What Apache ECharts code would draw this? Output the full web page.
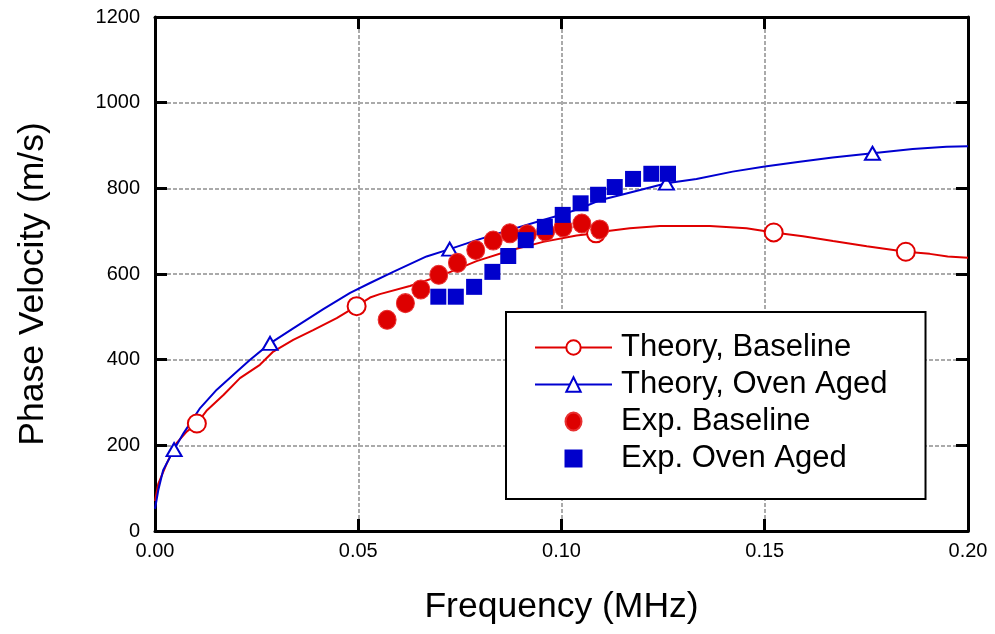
<!DOCTYPE html>
<html>
<head>
<meta charset="utf-8">
<script src="https://cdn.jsdelivr.net/npm/echarts@6/dist/echarts.min.js"></script>
<style>
html,body{margin:0;padding:0;background:#fff;}
#chart{width:995px;height:634px;}
</style>
</head>
<body>
<div id="chart"></div>
<script>
// theory curves (frequency MHz, velocity m/s)
var baseFreq = [0.0000,0.0008,0.0029,0.0053,0.0078,0.0103,0.0128,0.0169,0.0209,0.0258,0.0291,0.0340,0.0389,0.0447,0.0496,0.0529,0.0553,0.0627,0.0709,0.0791,0.0873,0.0955,0.1037,0.1085,0.1119,0.1168,0.1242,0.1365,0.1455,0.1522,0.1594,0.1668,0.1751,0.1847,0.1906,0.1950,0.2000];
var baseVel  = [70,110,158,205,232,251,282,318,357,388,419,446,469,497,525,545,553,572,598,630,655,675,690,695,701,707,712,712,707,697,688,677,665,652,647,641,638];
var baseMarks = [0.0103,0.0496,0.1085,0.1522,0.1847];

var ovenFreq = [0.0000,0.0008,0.0020,0.0041,0.0047,0.0070,0.0111,0.0152,0.0201,0.0234,0.0283,0.0340,0.0414,0.0480,0.0529,0.0586,0.0668,0.0725,0.0791,0.0873,0.0955,0.1012,0.1045,0.1094,0.1143,0.1258,0.1332,0.1421,0.1500,0.1586,0.1667,0.1765,0.1864,0.1947,0.2000];
var ovenVel  = [52,95,142,180,190,228,287,330,372,400,438,473,518,556,579,605,641,658,679,703,726,742,753,772,784,812,822,839,851,862,872,882,892,897,898];
var ovenMarks = [0.0047,0.0283,0.0725,0.1258,0.1765];

// measured points
var expBaseFreq = [0.0571,0.0616,0.0654,0.0698,0.0744,0.0789,0.0832,0.0873,0.0916,0.0961,0.1004,0.1050,0.1094];
var expBaseVel  = [493,532,564,598,626,656,678,695,693,699,709,718,704];
var expOvenFreq = [0.0697,0.0740,0.0785,0.0830,0.0869,0.0912,0.0959,0.1003,0.1047,0.1090,0.1131,0.1176,0.1221,0.1262];
var expOvenVel  = [547,547,570,605,642,679,710,738,765,785,803,822,834,834];

var FONT = "'Liberation Sans', Arial, Helvetica, sans-serif";
var RED = '#e00000', BLUE = '#0000d0';

function curve(fr, vel, marks){
	var out = [];
	for(var i=0;i<fr.length;i++){
		if(marks.indexOf(fr[i]) >= 0){
			out.push({value:[fr[i],vel[i]]});
		}else{
			out.push({value:[fr[i],vel[i]], symbol:'none'});
		}
	}
	return out;
}
function pairs(fr, vel){
	var out = [];
	for(var i=0;i<fr.length;i++) out.push([fr[i],vel[i]]);
	return out;
}

var gridLine = {show:true, lineStyle:{color:'#aaaaaa', width:2, type:[4,2]}};
var frameTick = {show:true, inside:true, length:12, lineStyle:{color:'#000', width:3}};
var frameLine = {show:true, onZero:false, lineStyle:{color:'#000', width:3}};

var chart = echarts.init(document.getElementById('chart'));
chart.setOption({
	animation:false,
	backgroundColor:'#fff',
	textStyle:{fontFamily:FONT},
	grid:{left:155, right:27, top:17, bottom:103, containLabel:false},
	legend:{
		left:506, top:312,
		orient:'vertical',
		backgroundColor:'#fff',
		borderColor:'#000', borderWidth:2,
		padding:[20,38,25,28],
		itemWidth:77, itemHeight:18, itemGap:6,
		textStyle:{fontFamily:FONT, fontSize:31, color:'#000', padding:[0,0,0,4]},
		data:[
			'Theory, Baseline',
			'Theory, Oven Aged',
			{name:'Exp. Baseline', icon:'path://M0,0 A8,9 0 1 1 0,0.01 Z'},
			{name:'Exp. Oven Aged', icon:'path://M0,0 L16,0 L16,16 L0,16 Z'}
		]
	},
	xAxis:[{
		type:'value', min:0, max:0.2, interval:0.05,
		name:'Frequency (MHz)', nameLocation:'middle', nameGap:58,
		nameTextStyle:{fontFamily:FONT, fontSize:35.5, color:'#000'},
		axisLine:frameLine, axisTick:frameTick,
		axisLabel:{fontFamily:FONT, fontSize:20, color:'#000', margin:10,
			formatter:function(v){return v.toFixed(2);}},
		splitLine:gridLine
	},{
		type:'value', min:0, max:0.2, interval:0.05, position:'top',
		axisLine:frameLine, axisTick:frameTick,
		axisLabel:{show:false}, splitLine:{show:false}
	}],
	yAxis:[{
		type:'value', min:0, max:1200, interval:200,
		name:'Phase Velocity (m/s)', nameLocation:'middle', nameGap:104, nameRotate:90,
		nameTextStyle:{fontFamily:FONT, fontSize:35.5, color:'#000', padding:[0,20,0,0]},
		axisLine:frameLine, axisTick:frameTick,
		axisLabel:{fontFamily:FONT, fontSize:20, color:'#000', margin:15,
			formatter:function(v){return String(v);}},
		splitLine:gridLine
	},{
		type:'value', min:0, max:1200, interval:200, position:'right',
		axisLine:frameLine, axisTick:frameTick,
		axisLabel:{show:false}, splitLine:{show:false}
	}],
	series:[{
		name:'Theory, Baseline', type:'line',
		data:curve(baseFreq, baseVel, baseMarks),
		symbol:'emptyCircle', symbolSize:18, showSymbol:true,
		lineStyle:{color:RED, width:2},
		itemStyle:{color:RED, borderWidth:2},
		z:2
	},{
		name:'Theory, Oven Aged', type:'line',
		data:curve(ovenFreq, ovenVel, ovenMarks),
		symbol:'emptyTriangle', symbolSize:[15,13], showSymbol:true,
		lineStyle:{color:BLUE, width:2},
		itemStyle:{color:BLUE, borderWidth:2},
		z:2
	},{
		name:'Exp. Baseline', type:'scatter',
		data:pairs(expBaseFreq, expBaseVel),
		symbol:'circle', symbolSize:[18,19],
		itemStyle:{color:'#dd0000', borderColor:'#e83030', borderWidth:1, opacity:1},
		z:3
	},{
		name:'Exp. Oven Aged', type:'scatter',
		data:pairs(expOvenFreq, expOvenVel),
		symbol:'rect', symbolSize:16,
		itemStyle:{color:'#0000cc', opacity:1},
		z:3
	}]
});
</script>
</body>
</html>
